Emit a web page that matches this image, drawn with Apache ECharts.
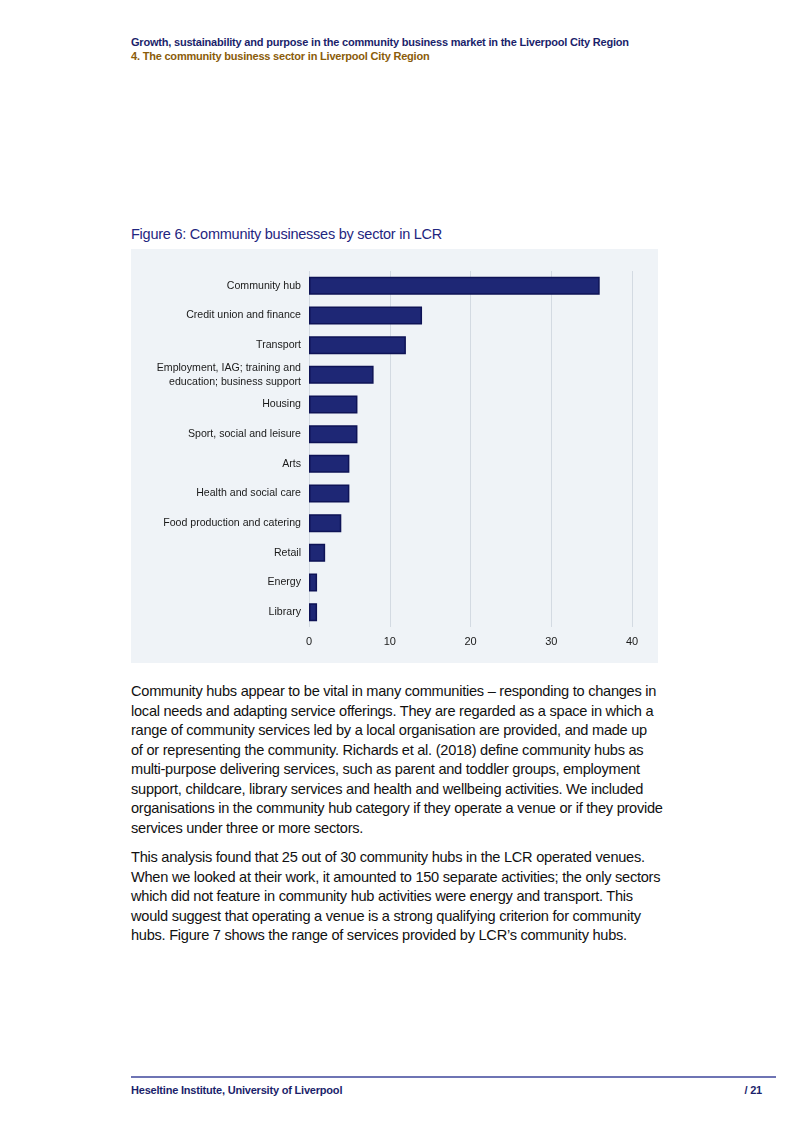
<!DOCTYPE html>
<html>
<head>
<meta charset="utf-8">
<script src="https://cdn.jsdelivr.net/npm/echarts@6/dist/echarts.min.js"></script>
<style>
  html, body { margin: 0; padding: 0; background: #ffffff; }
  body { width: 800px; height: 1132px; position: relative; font-family: "Liberation Sans", Arial, Helvetica, sans-serif; overflow: hidden; }
  .hdr { position: absolute; left: 131px; font-size: 11px; font-weight: bold; white-space: nowrap; letter-spacing: -0.2px; }
  #h1 { top: 36px; color: #1b1f6b; }
  #h2 { top: 50px; color: #8a5c0a; }
  #ftitle { position: absolute; left: 131px; top: 226px; font-size: 14.5px; color: #1f2680; white-space: nowrap; letter-spacing: -0.24px; }
  #chart { position: absolute; left: 131px; top: 249px; width: 527px; height: 414px; background: #eff3f7; }
  .para { position: absolute; left: 131px; font-size: 14.6px; line-height: 19.5px; color: #111; white-space: nowrap; letter-spacing: -0.26px; }
  #p1 { top: 682px; }
  #p2 { top: 848px; }
  #fline { position: absolute; left: 131px; top: 1076px; width: 645px; height: 2px; background: #6e74b4; }
  .ft { position: absolute; top: 1084px; font-size: 11px; font-weight: bold; color: #1b1f6b; white-space: nowrap; letter-spacing: -0.2px; }
  #f1 { left: 131px; }
  #f2 { right: 38px; }
</style>
</head>
<body>
<div class="hdr" id="h1">Growth, sustainability and purpose in the community business market in the Liverpool City Region</div>
<div class="hdr" id="h2">4. The community business sector in Liverpool City Region</div>
<div id="ftitle">Figure 6: Community businesses by sector in LCR</div>
<div id="chart"></div>
<div class="para" id="p1">Community hubs appear to be vital in many communities – responding to changes in<br>local needs and adapting service offerings. They are regarded as a space in which a<br>range of community services led by a local organisation are provided, and made up<br>of or representing the community. Richards et al. (2018) define community hubs as<br>multi-purpose delivering services, such as parent and toddler groups, employment<br>support, childcare, library services and health and wellbeing activities. We included<br>organisations in the community hub category if they operate a venue or if they provide<br>services under three or more sectors.</div>
<div class="para" id="p2">This analysis found that 25 out of 30 community hubs in the LCR operated venues.<br>When we looked at their work, it amounted to 150 separate activities; the only sectors<br>which did not feature in community hub activities were energy and transport. This<br>would suggest that operating a venue is a strong qualifying criterion for community<br>hubs. Figure 7 shows the range of services provided by LCR’s community hubs.</div>
<div id="fline"></div>
<div class="ft" id="f1">Heseltine Institute, University of Liverpool</div>
<div class="ft" id="f2">/ 21</div>
<script>
const categories = [
  "Community hub",
  "Credit union and finance",
  "Transport",
  "Employment, IAG; training and\neducation; business support",
  "Housing",
  "Sport, social and leisure",
  "Arts",
  "Health and social care",
  "Food production and catering",
  "Retail",
  "Energy",
  "Library"
];
const values = [36, 14, 12, 8, 6, 6, 5, 5, 4, 2, 1, 1];
const xTicks = [0, 10, 20, 30, 40];

const chart = echarts.init(document.getElementById('chart'), null, { renderer: 'canvas' });
chart.setOption({
  animation: false,
  backgroundColor: 'transparent',
  grid: { left: 178, right: 26, top: 22, bottom: 36, containLabel: false },
  xAxis: {
    type: 'value',
    min: xTicks[0],
    max: xTicks[xTicks.length - 1],
    interval: 10,
    axisLine: { show: false },
    axisTick: { show: false },
    axisLabel: { color: '#1a1a1a', fontSize: 11, margin: 9, fontFamily: 'Liberation Sans, Arial, sans-serif' },
    splitLine: { show: true, lineStyle: { color: '#d3dae2', width: 1 } }
  },
  yAxis: {
    type: 'category',
    data: categories,
    inverse: true,
    axisLine: { show: false },
    axisTick: { show: false },
    axisLabel: { color: '#1a1a1a', fontSize: 10.6, margin: 8, lineHeight: 14, align: 'right', fontFamily: 'Liberation Sans, Arial, sans-serif' }
  },
  series: [{
    type: 'bar',
    data: values,
    barWidth: 18,
    itemStyle: {
      color: '#1e2775',
      borderColor: '#0e1356',
      borderWidth: 1.5
    }
  }]
});
</script>
</body>
</html>
